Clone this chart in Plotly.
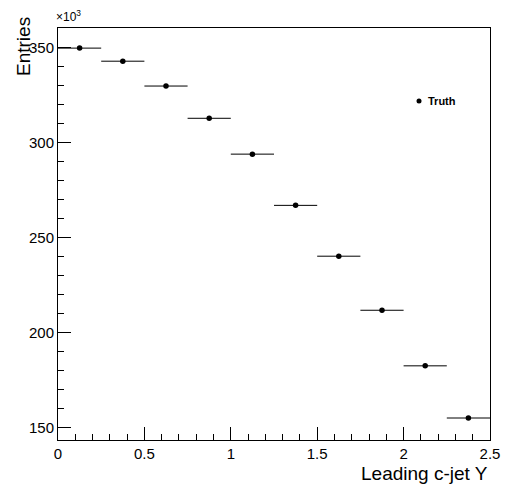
import plotly.graph_objects as go

# Data (entries in units of 10^3)
bin_centers = [0.125, 0.375, 0.625, 0.875, 1.125, 1.375, 1.625, 1.875, 2.125, 2.375]
bin_half_widths = [0.125] * 10
entries_k = [349.9, 343.0, 329.9, 312.9, 294.0, 267.0, 240.2, 211.7, 182.4, 154.9]
entries_err_k = [0.6, 0.6, 0.6, 0.6, 0.5, 0.5, 0.5, 0.5, 0.4, 0.4]

x_ticks = [0, 0.5, 1, 1.5, 2, 2.5]
x_tick_labels = ["0", "0.5", "1", "1.5", "2", "2.5"]
y_ticks = [150, 200, 250, 300, 350]
y_tick_labels = ["150", "200", "250", "300", "350"]

FONT = "Liberation Sans, Arial, Helvetica, sans-serif"

fig = go.Figure()
fig.add_trace(go.Scatter(
    x=bin_centers, y=entries_k,
    mode="markers",
    name="Truth",
    marker=dict(symbol="circle", size=5.5, color="black"),
    error_x=dict(type="data", array=bin_half_widths, color="black", thickness=1, width=0),
    error_y=dict(type="data", array=entries_err_k, color="black", thickness=1, width=0),
    showlegend=False,
))

axis_common = dict(
    showgrid=False, zeroline=False, automargin=False,
    showline=True, linecolor="black", linewidth=1, mirror=True,
    ticks="inside", ticklen=13, tickcolor="black", tickwidth=1,
    tickfont=dict(family=FONT, size=15, color="black"),
)

fig.update_layout(
    width=505, height=488,
    margin=dict(l=58, r=15, t=28, b=48, autoexpand=False),
    paper_bgcolor="white", plot_bgcolor="white",
    xaxis=dict(range=[0, 2.5], tickvals=x_ticks, ticktext=x_tick_labels,
               minor=dict(dtick=0.1, tick0=0, ticks="inside", ticklen=6, tickcolor="black"),
               **axis_common),
    yaxis=dict(range=[143.3, 360.5], tickvals=y_ticks, ticktext=y_tick_labels,
               minor=dict(dtick=10, tick0=150, ticks="inside", ticklen=6, tickcolor="black"),
               **axis_common),
    showlegend=False,
)

fig.add_annotation(text="Leading c-jet Y", xref="paper", yref="paper",
                   x=1.0, y=-0.082, xanchor="right", yanchor="middle", showarrow=False,
                   font=dict(family=FONT, size=19, color="black"))
fig.add_annotation(text="Entries", xref="paper", yref="paper", textangle=-90,
                   x=-0.08, y=0.955, xanchor="center", yanchor="middle", showarrow=False,
                   font=dict(family=FONT, size=19, color="black"))
fig.add_annotation(text="×10<sup>3</sup>", xref="paper", yref="paper",
                   x=-0.01, y=1.005, xanchor="left", yanchor="bottom", showarrow=False,
                   font=dict(family=FONT, size=12, color="black"))
# legend
fig.add_shape(type="circle", xref="paper", yref="paper",
              x0=(419 - 2.5 - 58) / 432, x1=(419 + 2.5 - 58) / 432,
              y0=(440 - 101 - 2.5) / 412, y1=(440 - 101 + 2.5) / 412,
              fillcolor="black", line=dict(color="black", width=0))
fig.add_annotation(text="<b>Truth</b>", xref="paper", yref="paper",
                   x=(426 - 58) / 432, y=(440 - 101) / 412, xanchor="left", yanchor="middle",
                   showarrow=False, font=dict(family=FONT, size=11, color="black"))

fig.write_html("out.html")
